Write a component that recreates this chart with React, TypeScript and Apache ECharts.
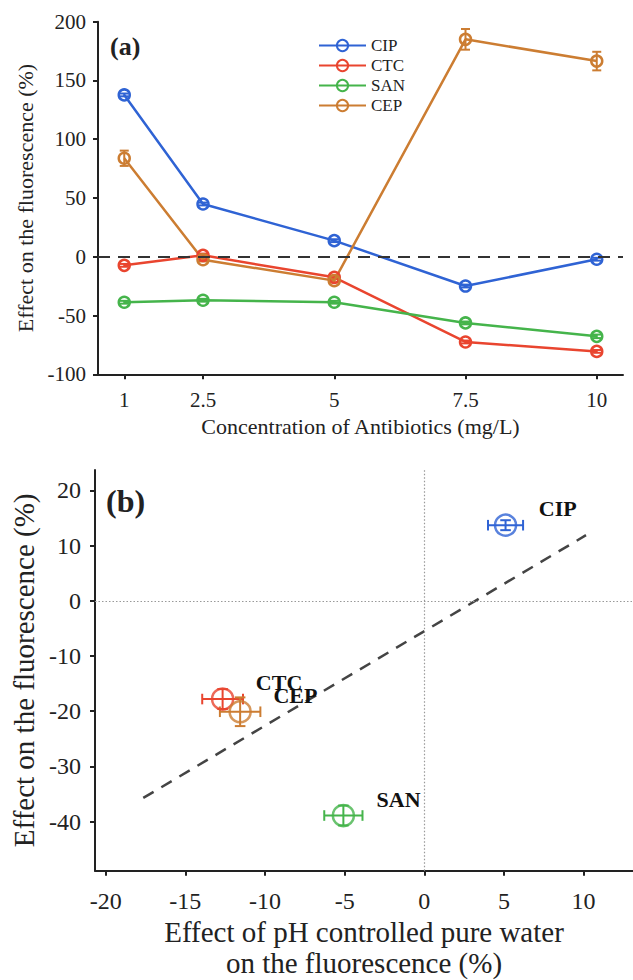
import React, { useEffect, useRef } from "react";
import * as echarts from "echarts";

// ---------- Panel (a) data ----------
const concentrations = [1, 2.5, 5, 7.5, 10];
const seriesNames = ["CIP", "CTC", "SAN", "CEP"];
const cipValues = [137.7, 44.9, 13.7, -24.9, -2.1];
const ctcValues = [-7.3, 1.2, -17.5, -72.5, -80.5];
const sanValues = [-38.7, -37.0, -38.7, -56.3, -67.7];
const cepValues = [83.8, -2.5, -20.3, 185.0, 166.5];
const cipErrors = [1.2, 1.2, 1.2, 1.2, 1.2];
const ctcErrors = [1.2, 1.5, 1.5, 1.2, 1.2];
const sanErrors = [1.2, 1.2, 1.2, 1.2, 1.5];
const cepErrors = [6.5, 1.5, 1.5, 8.8, 7.9];
const xTicksA = [1, 2.5, 5, 7.5, 10];
const yTicksA = [-100, -50, 0, 50, 100, 150, 200];

// ---------- Panel (b) data (order: CIP, CTC, SAN, CEP) ----------
const pureWaterEffect = [5.1, -12.66, -5.08, -11.56];
const fluorEffect = [13.7, -17.8, -38.9, -20.1];
const pureWaterError = [1.1, 1.28, 1.2, 1.27];
const fluorError = [0.9, 1.8, 1.8, 2.6];
const xTicksB = [-20, -15, -10, -5, 0, 5, 10];
const yTicksB = [-40, -30, -20, -10, 0, 10, 20];
const fitSlope = 1.713;
const fitIntercept = -5.5;
const fitXRange = [-17.64, 10.15];

const colors = ["#2f63d4", "#e9452f", "#45b44b", "#cc7d32"];
const FONT = "Liberation Serif";
const AXIS = "#222";

export default function App() {
  const ref = useRef<HTMLDivElement>(null);
  useEffect(() => {
    if (!ref.current) return;
    const chart = echarts.init(ref.current, undefined, { renderer: "svg" });
    const valuesA = [cipValues, ctcValues, sanValues, cepValues];
    const errorsA = [cipErrors, ctcErrors, sanErrors, cepErrors];

    const axisCommon = {
      axisLine: { show: true, onZero: false, lineStyle: { color: AXIS, width: 2 } },
      axisTick: { show: true, inside: false, length: 5, lineStyle: { color: AXIS, width: 2 } },
      splitLine: { show: false },
    };

    const errRenderA = (color: string) => (params: any, api: any) => {
      const x = api.value(0), y = api.value(1), e = api.value(2);
      const t = api.coord([x, y + e]);
      const b = api.coord([x, y - e]);
      const cw = 4.5;
      const st = { stroke: color, lineWidth: 2 };
      return {
        type: "group",
        children: [
          { type: "line", shape: { x1: t[0], y1: t[1], x2: b[0], y2: b[1] }, style: st },
          { type: "line", shape: { x1: t[0] - cw, y1: t[1], x2: t[0] + cw, y2: t[1] }, style: st },
          { type: "line", shape: { x1: b[0] - cw, y1: b[1], x2: b[0] + cw, y2: b[1] }, style: st },
        ],
      };
    };

    const errRenderB = (params: any, api: any) => {
      const x = api.value(0), y = api.value(1), ex = api.value(2), ey = api.value(3);
      const color = colors[params.dataIndex];
      const l = api.coord([x - ex, y]);
      const r = api.coord([x + ex, y]);
      const t = api.coord([x, y + ey]);
      const b = api.coord([x, y - ey]);
      const cw = 5.3;
      const st = { stroke: color, lineWidth: 2 };
      return {
        type: "group",
        children: [
          { type: "line", shape: { x1: l[0], y1: l[1], x2: r[0], y2: r[1] }, style: st },
          { type: "line", shape: { x1: l[0], y1: l[1] - cw, x2: l[0], y2: l[1] + cw }, style: st },
          { type: "line", shape: { x1: r[0], y1: r[1] - cw, x2: r[0], y2: r[1] + cw }, style: st },
          { type: "line", shape: { x1: t[0], y1: t[1], x2: b[0], y2: b[1] }, style: st },
          { type: "line", shape: { x1: t[0] - cw, y1: t[1], x2: t[0] + cw, y2: t[1] }, style: st },
          { type: "line", shape: { x1: b[0] - cw, y1: b[1], x2: b[0] + cw, y2: b[1] }, style: st },
        ],
      };
    };

    const series: any[] = [];
    seriesNames.forEach((name, i) => {
      series.push({
        name: name + "-err",
        type: "custom",
        xAxisIndex: 0,
        yAxisIndex: 0,
        renderItem: errRenderA(colors[i]),
        encode: { x: 0, y: 1 },
        data: concentrations.map((c, k) => [c, valuesA[i][k], errorsA[i][k]]),
        z: 2,
      });
    });
    seriesNames.forEach((name, i) => {
      series.push({
        name,
        type: "line",
        xAxisIndex: 0,
        yAxisIndex: 0,
        color: colors[i],
        symbol: "circle",
        symbolSize: 11,
        showAllSymbol: true,
        itemStyle: { color: "rgba(255,255,255,0)", borderColor: colors[i], borderWidth: 2.5 },
        lineStyle: { color: colors[i], width: 2.5 },
        data: concentrations.map((c, k) => [c, valuesA[i][k]]),
        z: 3,
        markLine:
          i === 0
            ? {
                silent: true,
                symbol: "none",
                label: { show: false },
                lineStyle: { color: "#333", type: [12, 8], width: 2 },
                data: [{ yAxis: 0 }],
              }
            : undefined,
      });
    });

    // Panel b
    series.push({
      name: "fit",
      type: "line",
      xAxisIndex: 1,
      yAxisIndex: 1,
      symbol: "none",
      lineStyle: { color: "#444", width: 2.5, type: [12, 9] },
      data: fitXRange.map((x) => [x, fitSlope * x + fitIntercept]),
      z: 2,
    });
    series.push({
      name: "b-err",
      type: "custom",
      xAxisIndex: 1,
      yAxisIndex: 1,
      renderItem: errRenderB,
      encode: { x: 0, y: 1 },
      data: pureWaterEffect.map((x, k) => [x, fluorEffect[k], pureWaterError[k], fluorError[k]]),
      z: 3,
    });
    series.push({
      name: "b-points",
      type: "scatter",
      xAxisIndex: 1,
      yAxisIndex: 1,
      symbol: "circle",
      symbolSize: 21,
      z: 4,
      data: pureWaterEffect.map((x, k) => ({
        value: [x, fluorEffect[k]],
        name: seriesNames[k],
        itemStyle: { color: "rgba(255,255,255,0)", borderColor: colors[k], borderWidth: 2.5 },
      })),
      label: {
        show: true,
        position: "right",
        distance: 21.5,
        offset: [0, -16.5],
        formatter: (p: any) => p.name,
        fontFamily: FONT,
        fontWeight: "bold",
        fontSize: 22,
        color: "#111",
        textBorderWidth: 0,
        opacity: 1,
      },
      markLine: {
        silent: true,
        symbol: "none",
        label: { show: false },
        lineStyle: { color: "#999", type: [1.5, 2], width: 1.2 },
        data: [{ xAxis: 0 }, { yAxis: 0 }],
      },
    });

    chart.setOption({
      animation: false,
      textStyle: { fontFamily: FONT },
      grid: [
        { left: 98, top: 21.7, width: 525, height: 352.6, outerBoundsMode: "none", containLabel: false },
        { left: 95, top: 470, width: 538, height: 400.7, outerBoundsMode: "none", containLabel: false },
      ],
      legend: {
        data: seriesNames,
        left: 318,
        top: 37,
        padding: 0,
        orient: "vertical",
        itemWidth: 47,
        itemHeight: 14,
        itemGap: 3,
        textStyle: { fontFamily: FONT, fontSize: 17, color: "#222" },
      },
      xAxis: [
        {
          type: "value",
          gridIndex: 0,
          min: 0.5,
          max: 10.5,
          ...axisCommon,
          axisTick: { ...axisCommon.axisTick, customValues: xTicksA },
          axisLabel: { customValues: xTicksA, fontFamily: FONT, fontSize: 21, color: "#222", margin: 15 },
          name: "Concentration of Antibiotics (mg/L)",
          nameLocation: "middle",
          nameGap: 41,
          nameTextStyle: { fontFamily: FONT, fontSize: 22, color: "#222" },
        },
        {
          type: "value",
          gridIndex: 1,
          min: -20.67,
          max: 13.1,
          ...axisCommon,
          axisTick: { ...axisCommon.axisTick, customValues: xTicksB },
          axisLabel: { customValues: xTicksB, fontFamily: FONT, fontSize: 24, color: "#222", margin: 18 },
          name: "Effect of pH controlled pure water\non the fluorescence (%)",
          nameLocation: "middle",
          nameGap: 46,
          nameTextStyle: { fontFamily: FONT, fontSize: 29, color: "#222", lineHeight: 31, verticalAlign: "top" },
        },
      ],
      yAxis: [
        {
          type: "value",
          gridIndex: 0,
          min: -100,
          max: 200,
          interval: 50,
          ...axisCommon,
          axisTick: { ...axisCommon.axisTick, customValues: yTicksA },
          axisLabel: { customValues: yTicksA, fontFamily: FONT, fontSize: 21, color: "#222", margin: 12 },
          name: "Effect on the fluorescence (%)",
          nameLocation: "middle",
          nameGap: 58,
          nameTextStyle: { fontFamily: FONT, fontSize: 22, color: "#222" },
        },
        {
          type: "value",
          gridIndex: 1,
          min: -48.9,
          max: 23.7,
          ...axisCommon,
          axisTick: { ...axisCommon.axisTick, customValues: yTicksB },
          axisLabel: { customValues: yTicksB, fontFamily: FONT, fontSize: 24, color: "#222", margin: 14 },
          name: "Effect on the fluorescence (%)",
          nameLocation: "middle",
          nameGap: 55,
          nameTextStyle: { fontFamily: FONT, fontSize: 29, color: "#222" },
        },
      ],
      graphic: [
        {
          type: "text",
          left: 110,
          top: 33,
          style: { text: "(a)", fontFamily: FONT, fontWeight: "bold", fontSize: 26, fill: "#222" },
        },
        {
          type: "text",
          left: 106,
          top: 485,
          style: { text: "(b)", fontFamily: FONT, fontWeight: "bold", fontSize: 32, fill: "#222" },
        },
      ],
      series,
    });
    return () => chart.dispose();
  }, []);
  return (
    <div
      ref={ref}
      style={{ position: "fixed", left: 0, top: 0, width: 633, height: 980, background: "#fff" }}
    />
  );
}
